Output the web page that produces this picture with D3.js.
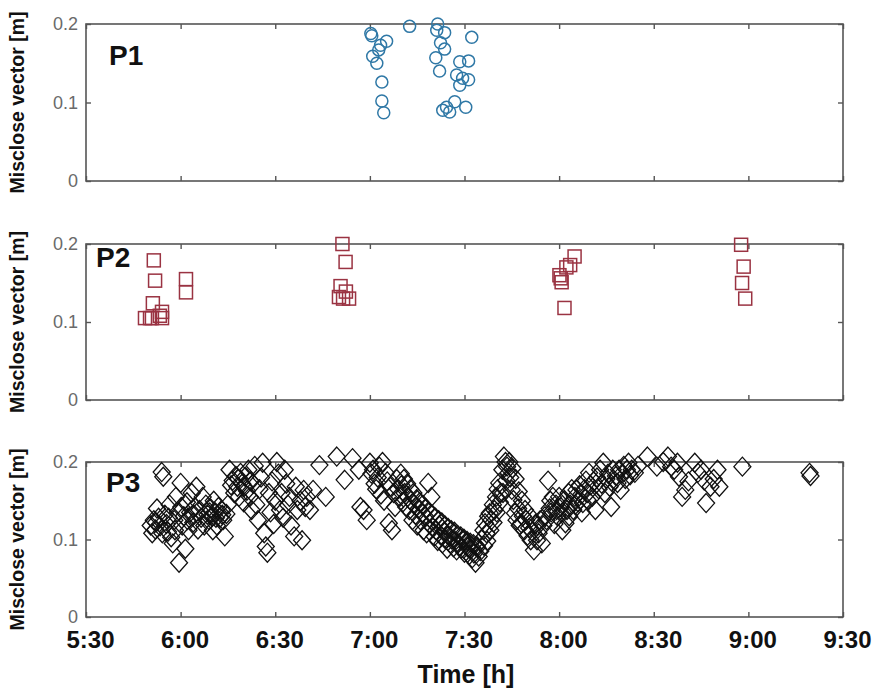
<!DOCTYPE html>
<html>
<head>
<meta charset="utf-8">
<script src="https://cdn.jsdelivr.net/npm/d3@7/dist/d3.min.js"></script>
<style>
	body { margin: 0; background: #fff; }
	svg { display: block; font-family: "Liberation Sans", Arial, sans-serif; }
</style>
</head>
<body>
<svg id="chart" width="876" height="691"></svg>
<script>
'use strict';

// time = minutes after midnight, value = misclose vector [m]
var xTicks = [330, 360, 390, 420, 450, 480, 510, 540, 570];
var yTicks = [0, 0.1, 0.2];
var panelNames = ['P1', 'P2', 'P3'];

var p1Points = [
	[420.3, 0.188], [420.6, 0.185], [425.3, 0.178], [423.4, 0.173], [422.8, 0.167],
	[420.9, 0.159], [422.2, 0.150], [423.8, 0.126], [423.8, 0.102], [424.4, 0.087],
	[432.6, 0.197], [441.5, 0.200], [441.2, 0.192], [443.7, 0.189], [442.4, 0.176],
	[443.7, 0.168], [440.9, 0.157], [442.1, 0.140], [452.3, 0.183], [448.5, 0.152],
	[451.3, 0.153], [447.5, 0.135], [449.4, 0.131], [451.3, 0.129], [448.5, 0.122],
	[444.3, 0.094], [446.9, 0.101], [450.4, 0.094], [445.3, 0.088], [443.1, 0.090]
];

var p2Points = [
	[351.5, 0.179], [351.9, 0.153], [351.2, 0.124], [348.7, 0.105], [350.3, 0.105],
	[350.9, 0.105], [353.4, 0.108], [354.1, 0.113], [354.1, 0.105], [361.7, 0.155],
	[361.7, 0.138],
	[411.3, 0.200], [412.3, 0.177], [410.7, 0.146], [410.2, 0.132], [411.5, 0.130],
	[413.4, 0.130], [412.4, 0.139],
	[480.1, 0.160], [480.8, 0.151], [481.7, 0.118], [480.5, 0.156], [483.5, 0.173],
	[484.9, 0.184], [482.3, 0.170],
	[537.7, 0.199], [538.5, 0.171], [538.0, 0.150], [539.0, 0.130]
];

var p3Points = [
	// 5:50 - 6:06
	[350.5, 0.118], [351, 0.108], [351.5, 0.125], [352, 0.113], [352.5, 0.140],
	[353, 0.128], [353.5, 0.117], [354, 0.187], [354.5, 0.181], [355, 0.132],
	[355.5, 0.120], [356, 0.110], [356.5, 0.145], [357, 0.103], [357.5, 0.095],
	[358, 0.125], [358.5, 0.155], [359, 0.135], [359.5, 0.070], [360, 0.173],
	[360.5, 0.118], [361, 0.130], [361.5, 0.088], [362, 0.148], [362.5, 0.112],
	[363, 0.135], [363.5, 0.160], [364, 0.122], [364.5, 0.142], [365, 0.168],
	[365.5, 0.113], [366, 0.138], [366.5, 0.128],
	[352.2, 0.122], [354.2, 0.108], [356.2, 0.128], [358.2, 0.112], [360.2, 0.142],
	[362.2, 0.125], [364.2, 0.132],
	// 6:06 - 6:16
	[367, 0.155], [367.5, 0.118], [368, 0.145], [368.5, 0.132], [369, 0.125],
	[369.5, 0.140], [370, 0.129], [370.5, 0.150], [371, 0.135], [371.5, 0.118],
	[372, 0.142], [372.5, 0.128], [373, 0.138], [373.5, 0.125], [374, 0.104],
	[374.5, 0.133], [375, 0.145], [375.5, 0.190], [376, 0.170],
	[369.2, 0.135], [371.2, 0.128], [373.2, 0.132], [370.2, 0.112],
	// 6:16 - 6:26
	[376.5, 0.176], [377, 0.160], [377.5, 0.182], [378, 0.168], [378.5, 0.155],
	[379, 0.186], [379.5, 0.172], [380, 0.148], [380.5, 0.181], [381, 0.163],
	[381.5, 0.190], [382, 0.155], [382.5, 0.138], [383, 0.172], [383.5, 0.195],
	[384, 0.145], [384.5, 0.125], [385, 0.165], [385.5, 0.180],
	[378.2, 0.178], [380.2, 0.168], [382.2, 0.175],
	// 6:26 - 6:42
	[386, 0.199], [386.5, 0.108], [387, 0.091], [387.5, 0.083], [388, 0.160],
	[388.5, 0.135], [389, 0.175], [389.5, 0.120], [390, 0.150], [390.5, 0.200],
	[391, 0.185], [391.5, 0.138], [392, 0.160], [392.5, 0.128], [393, 0.190],
	[393.5, 0.172], [394, 0.145], [394.5, 0.155], [395, 0.118], [396, 0.104],
	[396.5, 0.168], [397, 0.138], [398, 0.150], [398.5, 0.099], [399, 0.164],
	[399.5, 0.142], [400, 0.155], [401, 0.138], [402, 0.164],
	// 6:42 - 6:57
	[404, 0.196], [406, 0.155], [409.5, 0.207], [412, 0.177], [414.5, 0.205],
	[416.5, 0.190], [417, 0.142],
	// 6:57 - 7:09
	[418, 0.138], [419, 0.125], [420, 0.199], [420.5, 0.185], [421, 0.190],
	[421.5, 0.172], [422, 0.165], [422.5, 0.180], [423, 0.194], [423.5, 0.158],
	[424, 0.200], [424.5, 0.150], [425, 0.186], [425.5, 0.175], [426, 0.121],
	[426.5, 0.168], [427, 0.112], [427.5, 0.160], [428, 0.142], [428.5, 0.178],
	// 7:09 - 7:35 going down
	[429, 0.165], [429.5, 0.155], [430, 0.170], [430.5, 0.148], [431, 0.160],
	[431.5, 0.142], [432, 0.155], [432.5, 0.138], [433, 0.150], [433.5, 0.125],
	[434, 0.145], [434.5, 0.132], [435, 0.118], [435.5, 0.140], [436, 0.125],
	[436.5, 0.134], [437, 0.112], [437.5, 0.130], [438, 0.108], [438.5, 0.173],
	[439, 0.120], [439.5, 0.155], [440, 0.115], [440.5, 0.104], [441, 0.112],
	[441.5, 0.098], [442, 0.118], [442.5, 0.105], [443, 0.095], [443.5, 0.110],
	[444, 0.100], [444.5, 0.088], [445, 0.105], [445.5, 0.095], [446, 0.100],
	[446.5, 0.090], [447, 0.098], [447.5, 0.086], [448, 0.095], [448.5, 0.092],
	[449, 0.088], [449.5, 0.100], [450, 0.083], [450.5, 0.095], [451, 0.090],
	[451.5, 0.080], [452, 0.088], [452.5, 0.076], [453, 0.082], [453.5, 0.070],
	[454, 0.090], [454.5, 0.078], [455, 0.085],
	[429.8, 0.185], [430.8, 0.178], [431.8, 0.172], [432.8, 0.165], [433.8, 0.160],
	[434.8, 0.152], [435.8, 0.148], [436.8, 0.145], [437.8, 0.140], [438.8, 0.135],
	[439.8, 0.132], [440.8, 0.128], [441.8, 0.125], [442.8, 0.122], [443.8, 0.118],
	[444.8, 0.115], [445.8, 0.112], [446.8, 0.110], [447.8, 0.106], [448.8, 0.104],
	[449.8, 0.101], [450.8, 0.098], [451.8, 0.096], [452.8, 0.094], [453.8, 0.092],
	// 7:35 - 7:45 going up
	[455.5, 0.100], [456, 0.112], [456.5, 0.121], [457, 0.108], [457.5, 0.130],
	[458, 0.134], [458.5, 0.125], [459, 0.145], [459.5, 0.138], [460, 0.155],
	[460.5, 0.165], [461, 0.173], [461.5, 0.160], [462, 0.190], [462.5, 0.207],
	[463, 0.200], [463.5, 0.194], [464, 0.186], [464.5, 0.180], [465, 0.164],
	[465.5, 0.151],
	[456.2, 0.092], [457.2, 0.098], [458.2, 0.112], [459.2, 0.122], [460.2, 0.135],
	[461.2, 0.148], [462.2, 0.160], [463.2, 0.176], [464.2, 0.200], [465.2, 0.192],
	[466.2, 0.178], [467.2, 0.162], [468.2, 0.150],
	// 7:46 - 7:55
	[466, 0.134], [466.5, 0.125], [467, 0.140], [467.5, 0.118], [468, 0.121],
	[468.5, 0.130], [469, 0.112], [469.5, 0.125], [470, 0.105], [470.5, 0.115],
	[471, 0.099], [471.5, 0.110], [472, 0.086], [472.5, 0.120], [473, 0.099],
	[473.5, 0.108], [474, 0.125], [474.5, 0.095],
	[469.2, 0.138], [471.2, 0.128], [473.2, 0.118],
	// 7:55 - 8:25 going up
	[475, 0.118], [475.5, 0.130], [476, 0.125], [476.5, 0.176], [477, 0.140],
	[477.5, 0.135], [478, 0.155], [478.5, 0.120], [479, 0.145], [479.5, 0.130],
	[480, 0.155], [480.5, 0.142], [481, 0.112], [481.5, 0.150], [482, 0.121],
	[482.5, 0.138], [483, 0.160], [483.5, 0.145], [484, 0.165], [484.5, 0.138],
	[485, 0.155], [485.5, 0.164], [486, 0.148], [486.5, 0.170], [487, 0.158],
	[487.5, 0.147], [488, 0.165], [488.5, 0.176], [489, 0.160], [489.5, 0.186],
	[490, 0.170], [490.5, 0.155], [491, 0.175], [491.5, 0.138], [492, 0.180],
	[492.5, 0.165], [493, 0.190], [493.5, 0.172], [494, 0.199], [494.5, 0.160],
	[495, 0.178], [495.5, 0.185], [496, 0.168], [496.5, 0.142], [497, 0.190],
	[497.5, 0.176], [498, 0.182], [498.5, 0.173], [499, 0.190], [499.5, 0.164],
	[500, 0.185], [500.5, 0.195], [501, 0.178], [501.5, 0.190], [502, 0.199],
	[502.5, 0.183], [503, 0.190], [504, 0.186], [505, 0.195],
	[477.2, 0.150], [479.2, 0.138], [481.2, 0.135], [483.2, 0.130], [485.2, 0.145],
	[487.2, 0.135], [489.2, 0.150],
	// 8:25 - 8:51
	[508, 0.207], [511, 0.194], [513, 0.200], [514.5, 0.207], [515.5, 0.194],
	[516.5, 0.190], [517.5, 0.199], [518, 0.181], [520, 0.164], [519, 0.155],
	[521, 0.175], [523, 0.199], [524, 0.186], [525, 0.190], [526, 0.176],
	[526.6, 0.147], [528, 0.168], [529, 0.178], [530.2, 0.190], [530.8, 0.168],
	// 8:58 and 9:19
	[538.1, 0.194], [559.4, 0.186], [559.7, 0.182]
];

var svg = d3.select('#chart');

var panels = [
	{ top: 24, bottom: 181, points: p1Points, mark: 'circle', labelY: 65, labelX: 109 },
	{ top: 244, bottom: 400, points: p2Points, mark: 'square', labelY: 267, labelX: 96 },
	{ top: 462, bottom: 617, points: p3Points, mark: 'diamond', labelY: 492, labelX: 106 }
];

var x = d3.scaleLinear()
	.domain([330, 570])
	.range([86, 843]);

function fmtTime(m) {
	var h = Math.floor(m / 60), mm = m % 60;
	return h + ':' + (mm < 10 ? '0' + mm : mm);
}

var FRAME = '#555';

panels.forEach(function (p, i) {
	var y = d3.scaleLinear()
		.domain([0, 0.2])
		.range([p.bottom, p.top]);

	var g = svg.append('g');

	// frame
	g.append('rect')
		.attr('x', x.range()[0])
		.attr('y', p.top)
		.attr('width', x.range()[1] - x.range()[0])
		.attr('height', p.bottom - p.top)
		.attr('fill', 'none')
		.attr('stroke', FRAME)
		.attr('stroke-width', 1.6);

	var last = (i === panels.length - 1);

	var bottomAxis = g.append('g')
		.attr('transform', 'translate(0,' + p.bottom + ')')
		.call(d3.axisBottom(x)
			.tickValues(xTicks)
			.tickSizeInner(-5)
			.tickSizeOuter(0)
			.tickPadding(14)
			.tickFormat(last ? fmtTime : ''));

	var topAxis = g.append('g')
		.attr('transform', 'translate(0,' + p.top + ')')
		.call(d3.axisTop(x)
			.tickValues(xTicks)
			.tickSizeInner(-5)
			.tickSizeOuter(0)
			.tickFormat(''));

	var leftAxis = g.append('g')
		.attr('transform', 'translate(' + x.range()[0] + ',0)')
		.call(d3.axisLeft(y)
			.tickValues(yTicks)
			.tickSizeInner(-5)
			.tickSizeOuter(0)
			.tickPadding(8)
			.tickFormat(function (d) { return d === 0 ? '0' : d3.format('.1f')(d); }));

	var rightAxis = g.append('g')
		.attr('transform', 'translate(' + x.range()[1] + ',0)')
		.call(d3.axisRight(y)
			.tickValues(yTicks)
			.tickSizeInner(-5)
			.tickSizeOuter(0)
			.tickFormat(''));

	[bottomAxis, topAxis, leftAxis, rightAxis].forEach(function (a) {
		a.select('.domain').remove();
		a.selectAll('.tick line').attr('stroke', FRAME).attr('stroke-width', 1.4);
	});

	leftAxis.selectAll('.tick text')
		.attr('fill', '#6a6a6a')
		.style('font-size', '18px');

	bottomAxis.selectAll('.tick text')
		.attr('fill', '#111')
		.attr('dx', 4)
		.style('font-size', '24px')
		.style('font-weight', 'bold');

	// y label
	g.append('text')
		.attr('transform', 'translate(24,' + ((p.top + p.bottom) / 2) + ') rotate(-90)')
		.attr('text-anchor', 'middle')
		.style('font-size', '19.5px')
		.style('font-weight', 'bold')
		.attr('fill', '#111')
		.text('Misclose vector [m]');

	// panel name
	g.append('text')
		.attr('x', p.labelX)
		.attr('y', p.labelY)
		.style('font-size', '28px')
		.style('font-weight', 'bold')
		.attr('fill', '#111')
		.text(panelNames[i]);

	// markers
	var marks = g.append('g');
	if (p.mark === 'circle') {
		marks.selectAll('circle')
			.data(p.points)
			.enter().append('circle')
				.attr('cx', function (d) { return x(d[0]); })
				.attr('cy', function (d) { return y(d[1]); })
				.attr('r', 6)
				.attr('fill', 'none')
				.attr('stroke', '#2f78a6')
				.attr('stroke-width', 1.5);
	} else if (p.mark === 'square') {
		marks.selectAll('rect')
			.data(p.points)
			.enter().append('rect')
				.attr('x', function (d) { return x(d[0]) - 6.5; })
				.attr('y', function (d) { return y(d[1]) - 6.5; })
				.attr('width', 13)
				.attr('height', 13)
				.attr('fill', 'none')
				.attr('stroke', '#9a3342')
				.attr('stroke-width', 1.5);
	} else {
		marks.selectAll('path')
			.data(p.points)
			.enter().append('path')
				.attr('transform', function (d) { return 'translate(' + x(d[0]) + ',' + y(d[1]) + ')'; })
				.attr('d', 'M0,-9.5L8.5,0L0,9.5L-8.5,0Z')
				.attr('fill', 'none')
				.attr('stroke', '#111')
				.attr('stroke-width', 1.3);
	}
});

// x label
svg.append('text')
	.attr('x', 466)
	.attr('y', 683)
	.attr('text-anchor', 'middle')
	.style('font-size', '25px')
	.style('font-weight', 'bold')
	.attr('fill', '#111')
	.text('Time [h]');
</script>
</body>
</html>
